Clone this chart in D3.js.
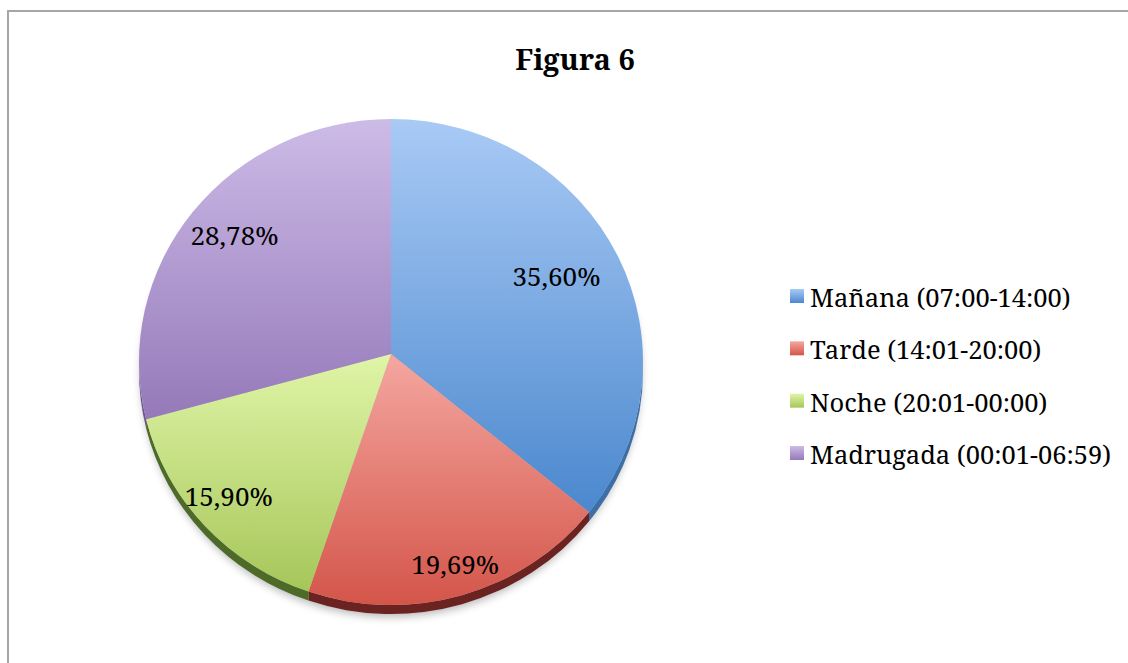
<!DOCTYPE html>
<html>
<head>
<meta charset="utf-8">
<script src="https://cdn.jsdelivr.net/npm/d3@7"></script>
<style>
  html, body { margin: 0; padding: 0; background: #fff; }
  svg { display: block; }
  text { font-family: "Noto Sans", sans-serif; fill: #000; }
  text.serif { font-family: "Noto Serif", "Liberation Serif", serif; }
</style>
</head>
<body>
<svg id="chart" width="1128" height="663"></svg>
<script>
// ---- data ----
const title = "Figura 6";
const categories = ["Mañana (07:00-14:00)", "Tarde (14:01-20:00)", "Noche (20:01-00:00)", "Madrugada (00:01-06:59)"];
const values = [35.60, 19.69, 15.90, 28.78];
const valueLabels = ["35,60%", "19,69%", "15,90%", "28,78%"];
const colorsTop = ["#a9caf5", "#f4a7a0", "#e0f5a8", "#cdbbe7"];
const colorsBottom = ["#4b88ce", "#d4554a", "#a6c659", "#9579b9"];
const sideColors = ["#3d6ea6", "#6a2320", "#4d6a29", "#6e5591"];

// ---- layout ----
const W = 1128, H = 663;
const cx = 391, cy = 362, rx = 252, ry = 243;   // ellipse of the top face
const vx = 391, vy = 354;                       // pie apex
const depth = 9;
const labelK = [0.73, 0.905, 0.87, 0.79];

const svg = d3.select("#chart");
const defs = svg.append("defs");

svg.append("rect").attr("width", W).attr("height", H).attr("fill", "#fff");
svg.append("rect").attr("x", 8).attr("y", 11).attr("width", 1300).attr("height", 900)
  .attr("fill", "none").attr("stroke", "#a6a6a6").attr("stroke-width", 2);

values.forEach((v, i) => {
  const g = defs.append("linearGradient").attr("id", "g" + i)
    .attr("x1", 0).attr("y1", 0).attr("x2", 0).attr("y2", 1);
  g.append("stop").attr("offset", "0%").attr("stop-color", colorsTop[i]);
  g.append("stop").attr("offset", "100%").attr("stop-color", colorsBottom[i]);
});
const blur = defs.append("filter").attr("id", "blur")
  .attr("x", "-10%").attr("y", "-10%").attr("width", "120%").attr("height", "120%");
blur.append("feGaussianBlur").attr("stdDeviation", 4);

const pie = d3.pie().sort(null).value(d => d);
const arcs = pie(values);

function pt(a, dy) { return [cx + rx * Math.sin(a), cy - ry * Math.cos(a) + (dy || 0)]; }

function facePath(d) {
  const p = d3.path();
  const s = pt(d.startAngle), e = pt(d.endAngle);
  p.moveTo(vx, vy);
  p.lineTo(s[0], s[1]);
  const large = (d.endAngle - d.startAngle) > Math.PI ? 1 : 0;
  return p.toString() + ` A ${rx} ${ry} 0 ${large} 1 ${e[0]} ${e[1]} Z`;
}

function sidePath(d) {
  const a0 = Math.max(d.startAngle, Math.PI / 2);
  const a1 = Math.min(d.endAngle, 3 * Math.PI / 2);
  if (a1 <= a0) return null;
  const s = pt(a0), e = pt(a1), e2 = pt(a1, depth), s2 = pt(a0, depth);
  const large = (a1 - a0) > Math.PI ? 1 : 0;
  return `M ${s[0]} ${s[1]} A ${rx} ${ry} 0 ${large} 1 ${e[0]} ${e[1]} L ${e2[0]} ${e2[1]} A ${rx} ${ry} 0 ${large} 0 ${s2[0]} ${s2[1]} Z`;
}

svg.append("ellipse").attr("cx", cx).attr("cy", cy + depth + 3)
  .attr("rx", rx - 2).attr("ry", ry).attr("fill", "#000").attr("opacity", 0.28)
  .attr("filter", "url(#blur)");

svg.append("g").selectAll("path").data(arcs.filter(d => sidePath(d))).join("path")
  .attr("d", sidePath).attr("fill", d => sideColors[d.index]);

svg.append("g").selectAll("path").data(arcs).join("path")
  .attr("d", facePath).attr("fill", d => `url(#g${d.index})`);

// value labels
svg.append("g").selectAll("text").data(arcs).join("text")
  .attr("class", "serif")
  .attr("x", d => { const m = (d.startAngle + d.endAngle) / 2; return vx + labelK[d.index] * rx * Math.sin(m); })
  .attr("y", d => { const m = (d.startAngle + d.endAngle) / 2; return vy - labelK[d.index] * ry * Math.cos(m); })
  .attr("dy", "0.36em")
  .attr("text-anchor", "middle")
  .style("font-size", "26px")
  .text(d => valueLabels[d.index]);

// title
svg.append("text").attr("class", "serif").attr("x", 575).attr("y", 70).attr("text-anchor", "middle")
  .style("font-size", "29px").style("font-weight", "bold").text(title);

// legend
const legY = d3.scalePoint().domain(categories).range([307, 464]);
const leg = svg.append("g").selectAll("g").data(categories).join("g")
  .attr("transform", d => `translate(0,${legY(d)})`);
leg.append("rect").attr("x", 790).attr("y", -18).attr("width", 14).attr("height", 14)
  .attr("fill", (d, i) => `url(#g${i})`);
leg.append("text").attr("class", "serif").attr("x", 810).attr("y", 0)
  .style("font-size", "25.5px").text(d => d);
</script>
</body>
</html>
